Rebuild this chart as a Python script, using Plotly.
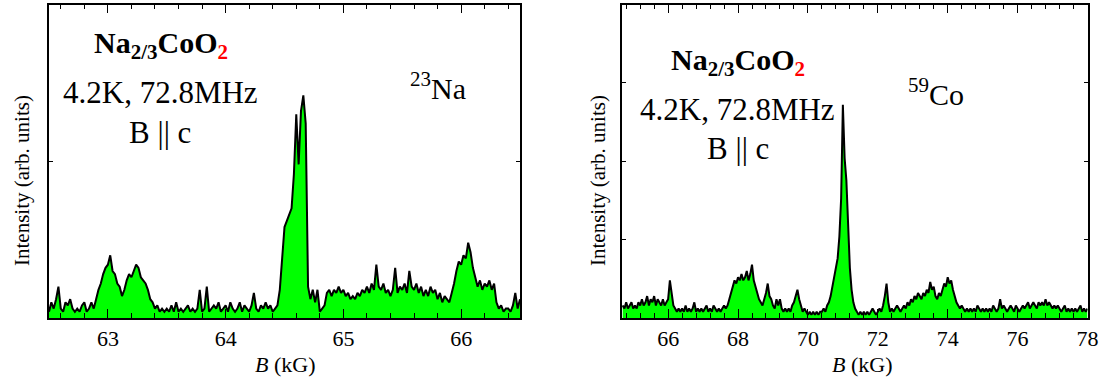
import plotly.graph_objects as go
import numpy as np

# ---------------- data ----------------
# 23Na spectrum: field grid 62.50 .. 66.50 kG, step 0.02 kG
na_B_start, na_B_step = 62.50, 0.02
na_I = [
    0.02, 0.05, 0.03, 0.06, 0.10, 0.03, 0.02, 0.05, 0.04, 0.06,
    0.03, 0.02, 0.03, 0.02, 0.04, 0.05, 0.02, 0.03, 0.05, 0.03,
    0.06, 0.09, 0.11, 0.14, 0.16, 0.17, 0.20, 0.15, 0.14, 0.11,
    0.10, 0.07, 0.09, 0.12, 0.14, 0.13, 0.15, 0.17, 0.16, 0.13,
    0.12, 0.11, 0.09, 0.06, 0.05, 0.03, 0.04, 0.02, 0.03, 0.02,
    0.03, 0.02, 0.04, 0.02, 0.05, 0.02, 0.03, 0.02, 0.03, 0.04,
    0.02, 0.03, 0.02, 0.03, 0.09, 0.02, 0.03, 0.10, 0.02, 0.03,
    0.04, 0.03, 0.05, 0.02, 0.03, 0.04, 0.02, 0.05, 0.03, 0.02,
    0.03, 0.05, 0.02, 0.04, 0.03, 0.02, 0.04, 0.08, 0.03, 0.02,
    0.04, 0.03, 0.05, 0.03, 0.04, 0.02, 0.03, 0.04, 0.09, 0.20,
    0.29, 0.31, 0.33, 0.35, 0.46, 0.65, 0.49, 0.66, 0.71, 0.62,
    0.10, 0.06, 0.09, 0.05, 0.09, 0.02, 0.03, 0.04, 0.08, 0.09,
    0.07, 0.09, 0.08, 0.10, 0.08, 0.09, 0.07, 0.08, 0.06, 0.07,
    0.06, 0.08, 0.07, 0.09, 0.08, 0.10, 0.08, 0.11, 0.09, 0.17,
    0.10, 0.09, 0.11, 0.08, 0.09, 0.07, 0.09, 0.16, 0.08, 0.10,
    0.09, 0.11, 0.08, 0.15, 0.10, 0.09, 0.11, 0.08, 0.10, 0.07,
    0.09, 0.07, 0.10, 0.08, 0.09, 0.06, 0.08, 0.05, 0.07, 0.06,
    0.05, 0.08, 0.11, 0.15, 0.18, 0.17, 0.20, 0.19, 0.24, 0.21,
    0.16, 0.13, 0.10, 0.12, 0.09, 0.11, 0.10, 0.12, 0.09, 0.11,
    0.05, 0.03, 0.04, 0.02, 0.03, 0.03, 0.02, 0.04, 0.08, 0.03,
    0.06,
]

# 59Co spectrum: field grid 64.70 .. 78.00 kG, step 0.05 kG
co_B_start, co_B_step = 64.70, 0.05
co_I = [
    0.04, 0.03, 0.05, 0.03, 0.04, 0.05, 0.03, 0.04, 0.03, 0.05,
    0.04, 0.06, 0.04, 0.05, 0.07, 0.04, 0.06, 0.05, 0.07, 0.04,
    0.06, 0.05, 0.04, 0.06, 0.04, 0.05, 0.06, 0.12, 0.07, 0.04,
    0.03, 0.02, 0.03, 0.02, 0.03, 0.02, 0.04, 0.02, 0.03, 0.02,
    0.03, 0.05, 0.02, 0.03, 0.02, 0.03, 0.02, 0.03, 0.04, 0.02,
    0.03, 0.02, 0.04, 0.03, 0.02, 0.03, 0.02, 0.03, 0.04, 0.03,
    0.04, 0.06, 0.08, 0.10, 0.12, 0.11, 0.13, 0.12, 0.14, 0.12,
    0.13, 0.15, 0.12, 0.14, 0.17, 0.12, 0.10, 0.08, 0.06, 0.05,
    0.04, 0.06, 0.08, 0.11, 0.07, 0.06, 0.04, 0.03, 0.06, 0.04,
    0.06, 0.03, 0.02, 0.03, 0.02, 0.03, 0.02, 0.04, 0.05, 0.07,
    0.09, 0.06, 0.04, 0.02, 0.03, 0.02, 0.01, 0.02, 0.01, 0.02,
    0.01, 0.02, 0.01, 0.02, 0.02, 0.03, 0.02, 0.04, 0.05, 0.07,
    0.10, 0.13, 0.155, 0.19, 0.26, 0.38, 0.68, 0.51, 0.44, 0.27,
    0.16, 0.09, 0.05, 0.03, 0.02, 0.01, 0.02, 0.01, 0.02, 0.01,
    0.02, 0.01, 0.02, 0.03, 0.02, 0.01, 0.02, 0.03, 0.02, 0.04,
    0.07, 0.11, 0.05, 0.02, 0.03, 0.02, 0.03, 0.04, 0.03, 0.02,
    0.03, 0.04, 0.03, 0.05, 0.04, 0.06, 0.05, 0.07, 0.06, 0.08,
    0.07, 0.06, 0.08, 0.07, 0.09, 0.08, 0.115, 0.09, 0.10, 0.07,
    0.06, 0.08, 0.07, 0.09, 0.11, 0.10, 0.13, 0.11, 0.12, 0.09,
    0.07, 0.05, 0.04, 0.03, 0.04, 0.03, 0.02, 0.03, 0.02, 0.03,
    0.02, 0.03, 0.02, 0.04, 0.03, 0.02, 0.03, 0.02, 0.03, 0.02,
    0.03, 0.02, 0.04, 0.03, 0.02, 0.03, 0.06, 0.03, 0.04, 0.03,
    0.02, 0.03, 0.04, 0.03, 0.02, 0.04, 0.03, 0.02, 0.03, 0.04,
    0.03, 0.04, 0.05, 0.03, 0.04, 0.05, 0.04, 0.03, 0.05, 0.04,
    0.05, 0.04, 0.06, 0.04, 0.05, 0.04, 0.03, 0.04, 0.03, 0.04,
    0.03, 0.02, 0.03, 0.04, 0.02, 0.03, 0.02, 0.03, 0.02, 0.03,
    0.02, 0.03, 0.04, 0.02, 0.03, 0.02, 0.03,
]

na_B = np.round(na_B_start + na_B_step * np.arange(len(na_I)), 4)
co_B = np.round(co_B_start + co_B_step * np.arange(len(co_I)), 4)

na_xrange = [62.5, 66.5]
co_xrange = [64.68, 78.0]

formula = "<b>Na<sub>2/3</sub>CoO<sub><span style='color:red'>2</span></sub></b>"
cond_line = "4.2K, 72.8MHz"
orient_line = "B || c"

# ---------------- figure ----------------
W, H = 1109, 385
FONT = "Liberation Serif"
GREEN = "#00ff00"

def px(x):
    return x / W

def py(y):
    return (H - y) / H

fig = go.Figure()
fig.add_trace(go.Scatter(x=na_B, y=na_I, mode="lines", fill="tozeroy",
                         fillcolor=GREEN, line=dict(color="black", width=2.0),
                         xaxis="x", yaxis="y", showlegend=False))
fig.add_trace(go.Scatter(x=co_B, y=co_I, mode="lines", fill="tozeroy",
                         fillcolor=GREEN, line=dict(color="black", width=2.0),
                         xaxis="x2", yaxis="y2", showlegend=False))

ydom = [py(318), py(4.5)]

xcommon = dict(showline=True, linecolor="black", linewidth=1.5, mirror="ticks",
               ticks="inside", ticklen=9, tickwidth=1.2, tickcolor="black",
               showgrid=False, zeroline=False, automargin=False,
               tickfont=dict(family=FONT, size=22, color="black"))
ycommon = dict(showline=True, linecolor="black", linewidth=1.5, mirror="ticks",
               ticks="inside", ticklen=4, tickwidth=1.2, tickcolor="black",
               showgrid=False, zeroline=False, showticklabels=False, automargin=False,
               range=[0, 1], domain=ydom)

fig.update_layout(
    width=W, height=H, autosize=False,
    margin=dict(l=0, r=0, t=0, b=0),
    paper_bgcolor="white", plot_bgcolor="white",
    font=dict(family=FONT, color="black"),
    xaxis=dict(xcommon, domain=[px(49), px(520)], range=na_xrange, dtick=1,
               tick0=63, anchor="y",
               minor=dict(dtick=0.2, ticks="inside", ticklen=5, tickcolor="black", tickwidth=1.2)),
    yaxis=dict(ycommon, anchor="x", dtick=0.5),
    xaxis2=dict(xcommon, domain=[px(622), px(1087.5)], range=co_xrange, dtick=2,
                tick0=66, anchor="y2",
                minor=dict(dtick=0.4, ticks="inside", ticklen=5, tickcolor="black", tickwidth=1.2)),
    yaxis2=dict(ycommon, anchor="x2", dtick=0.25),
)

def ann(text, x, y, size, **kw):
    fig.add_annotation(text=text, x=px(x), y=py(y), xref="paper", yref="paper",
                       showarrow=False, xanchor=kw.get("xanchor", "center"),
                       yanchor="middle", textangle=kw.get("angle", 0),
                       font=dict(family=FONT, size=size, color="black"))

# left panel texts
ann(formula, 161, 45, 30)
ann(cond_line, 160, 93, 31)
ann(orient_line, 160, 132, 31)
ann("<sup>23</sup>Na", 438, 86, 30)
# right panel texts
ann(formula, 738, 62, 30)
ann(cond_line, 737, 109, 31)
ann(orient_line, 738, 148, 31)
ann("<sup>59</sup>Co", 936, 92, 30)

# axis titles
ann("<i>B</i> (kG)", 285, 364, 22)
ann("<i>B</i> (kG)", 862, 364, 22)
ann("Intensity (arb. units)", 22, 181, 21, angle=-90)
ann("Intensity (arb. units)", 598, 181, 21, angle=-90)

fig.write_html(
    "out.html",
    config={"displayModeBar": False, "responsive": False},
    post_script="document.body.style.margin='0px';document.body.style.padding='0px';"
                "document.body.style.overflow='hidden';document.documentElement.style.overflow='hidden';",
)
